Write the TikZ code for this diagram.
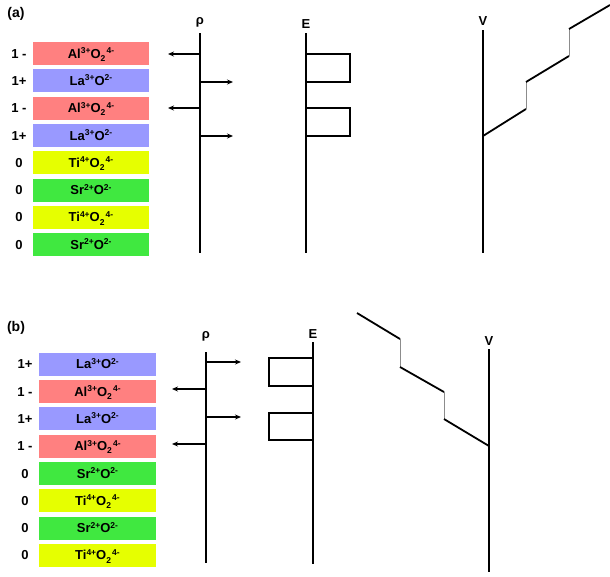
\documentclass[tikz,border=0pt]{standalone}
\usepackage{fontspec}
\setmainfont{Liberation Sans}
\usetikzlibrary{arrows.meta}
\definecolor{alred}{HTML}{FF8080}
\definecolor{lablue}{HTML}{9999FF}
\definecolor{tiyel}{HTML}{E6FF00}
\definecolor{srgrn}{HTML}{40E840}
\newcommand{\myhi}[1]{\raisebox{4.6pt}{\fontsize{8.5}{9}\selectfont #1}}
\newcommand{\mylo}[1]{\raisebox{-3.2pt}{\fontsize{8.5}{9}\selectfont #1}}
\newcommand{\AlO}{Al\myhi{3+}O\mylo{2}\kern1.2pt\myhi{4-}}
\newcommand{\TiO}{Ti\myhi{4+}O\mylo{2}\kern1.2pt\myhi{4-}}
\newcommand{\LaO}{La\myhi{3+}O\myhi{2-}}
\newcommand{\SrO}{Sr\myhi{2+}O\myhi{2-}}
\tikzset{
  layer/.style={minimum width=116pt, minimum height=23pt, inner sep=0pt,
    text height=9.3pt, text depth=0pt, font=\fontsize{13}{15}\selectfont\bfseries},
  chg/.style={inner sep=0pt, text height=9.3pt, text depth=0pt,
    font=\fontsize{13}{15}\selectfont\bfseries},
  axlab/.style={inner sep=0pt, anchor=base, font=\fontsize{13}{15}\selectfont\bfseries},
  panlab/.style={inner sep=0pt, font=\fontsize{14}{16}\selectfont\bfseries},
  axis/.style={line width=2pt},
  arr/.style={line width=1.8pt, -{Stealth[length=6pt,width=5pt]}},
  efield/.style={line width=2pt},
  pot/.style={line width=1.8pt},
  potstep/.style={line width=1pt, draw=black!45},
}
\begin{document}
\begin{tikzpicture}[x=1pt,y=-1pt]
\useasboundingbox (0,0) rectangle (610,576);
% ---------------- panel (a)
\node[panlab] (pa) at (16,14) {(a)};
\node[layer, fill=alred]  (a1) at (91,53.5)  {\AlO};
\node[layer, fill=lablue] (a2) at (91,80.8)  {\LaO};
\node[layer, fill=alred]  (a3) at (91,108.1) {\AlO};
\node[layer, fill=lablue] (a4) at (91,135.4) {\LaO};
\node[layer, fill=tiyel]  (a5) at (91,162.7) {\TiO};
\node[layer, fill=srgrn]  (a6) at (91,190)   {\SrO};
\node[layer, fill=tiyel]  (a7) at (91,217.3) {\TiO};
\node[layer, fill=srgrn]  (a8) at (91,244.6) {\SrO};
\node[chg] (ca1) at (19,53.5)  {1 -};
\node[chg] (ca2) at (19,80.8)  {1+};
\node[chg] (ca3) at (19,108.1) {1 -};
\node[chg] (ca4) at (19,135.4) {1+};
\node[chg] (ca5) at (19,162.7) {0};
\node[chg] (ca6) at (19,190)   {0};
\node[chg] (ca7) at (19,217.3) {0};
\node[chg] (ca8) at (19,244.6) {0};
% rho axis
\node[axlab] (rhoa) at (200,24) {ρ};
\coordinate (rta) at (200,33);
\coordinate (rba) at (200,253);
\draw[axis] (rta) -- (rba);
\coordinate (ra1) at (200,54);  \coordinate (ra1e) at (168,54);
\coordinate (ra2) at (200,82);  \coordinate (ra2e) at (233,82);
\coordinate (ra3) at (200,108); \coordinate (ra3e) at (168,108);
\coordinate (ra4) at (200,136); \coordinate (ra4e) at (233,136);
\draw[arr] (ra1) -- (ra1e);
\draw[arr] (ra2) -- (ra2e);
\draw[arr] (ra3) -- (ra3e);
\draw[arr] (ra4) -- (ra4e);
% E axis
\node[axlab] (ea) at (306,28) {E};
\coordinate (eta) at (306,33);
\coordinate (eba) at (306,253);
\draw[axis] (eta) -- (eba);
\draw[efield] (306,54) rectangle (350,82);
\draw[efield] (306,108) rectangle (350,136);
% V axis
\node[axlab] (va) at (483,25.5) {V};
\coordinate (vta) at (483,30);
\coordinate (vba) at (483,253);
\draw[axis] (vta) -- (vba);
\coordinate (p0) at (483,136);
\coordinate (p1) at (526,109);
\coordinate (p2) at (526,82);
\coordinate (p3) at (569,56);
\coordinate (p4) at (569,29);
\coordinate (p5) at (610,5);
\draw[pot] (p0) -- (p1);
\draw[potstep] (p1) -- (p2);
\draw[pot] (p2) -- (p3);
\draw[potstep] (p3) -- (p4);
\draw[pot] (p4) -- (p5);
% ---------------- panel (b)
\node[panlab] (pb) at (16,328) {(b)};
\node[layer, fill=lablue, minimum width=117pt] (b1) at (97.5,364.2) {\LaO};
\node[layer, fill=alred,  minimum width=117pt] (b2) at (97.5,391.5) {\AlO};
\node[layer, fill=lablue, minimum width=117pt] (b3) at (97.5,418.8) {\LaO};
\node[layer, fill=alred,  minimum width=117pt] (b4) at (97.5,446.1) {\AlO};
\node[layer, fill=srgrn,  minimum width=117pt] (b5) at (97.5,473.4) {\SrO};
\node[layer, fill=tiyel,  minimum width=117pt] (b6) at (97.5,500.7) {\TiO};
\node[layer, fill=srgrn,  minimum width=117pt] (b7) at (97.5,528)   {\SrO};
\node[layer, fill=tiyel,  minimum width=117pt] (b8) at (97.5,555.3) {\TiO};
\node[chg] (cb1) at (25,364.2) {1+};
\node[chg] (cb2) at (25,391.5) {1 -};
\node[chg] (cb3) at (25,418.8) {1+};
\node[chg] (cb4) at (25,446.1) {1 -};
\node[chg] (cb5) at (25,473.4) {0};
\node[chg] (cb6) at (25,500.7) {0};
\node[chg] (cb7) at (25,528)   {0};
\node[chg] (cb8) at (25,555.3) {0};
% rho axis
\node[axlab] (rhob) at (206,338.5) {ρ};
\coordinate (rtb) at (206,352);
\coordinate (rbb) at (206,563);
\draw[axis] (rtb) -- (rbb);
\coordinate (rb1) at (206,362); \coordinate (rb1e) at (241,362);
\coordinate (rb2) at (206,389); \coordinate (rb2e) at (172,389);
\coordinate (rb3) at (206,417); \coordinate (rb3e) at (241,417);
\coordinate (rb4) at (206,444); \coordinate (rb4e) at (172,444);
\draw[arr] (rb1) -- (rb1e);
\draw[arr] (rb2) -- (rb2e);
\draw[arr] (rb3) -- (rb3e);
\draw[arr] (rb4) -- (rb4e);
% E axis
\node[axlab] (eb) at (313,338.3) {E};
\coordinate (etb) at (313,342);
\coordinate (ebb) at (313,564);
\draw[axis] (etb) -- (ebb);
\draw[efield] (313,358) rectangle (269,386);
\draw[efield] (313,413) rectangle (269,440);
% V axis
\node[axlab] (vb) at (489,345) {V};
\coordinate (vtb) at (489,349);
\coordinate (vbb) at (489,572);
\draw[axis] (vtb) -- (vbb);
\coordinate (q0) at (357,313);
\coordinate (q1) at (400,339);
\coordinate (q2) at (400,367);
\coordinate (q3) at (444,392);
\coordinate (q4) at (444,419);
\coordinate (q5) at (489,446);
\draw[pot] (q0) -- (q1);
\draw[potstep] (q1) -- (q2);
\draw[pot] (q2) -- (q3);
\draw[potstep] (q3) -- (q4);
\draw[pot] (q4) -- (q5);
\end{tikzpicture}
\end{document}
